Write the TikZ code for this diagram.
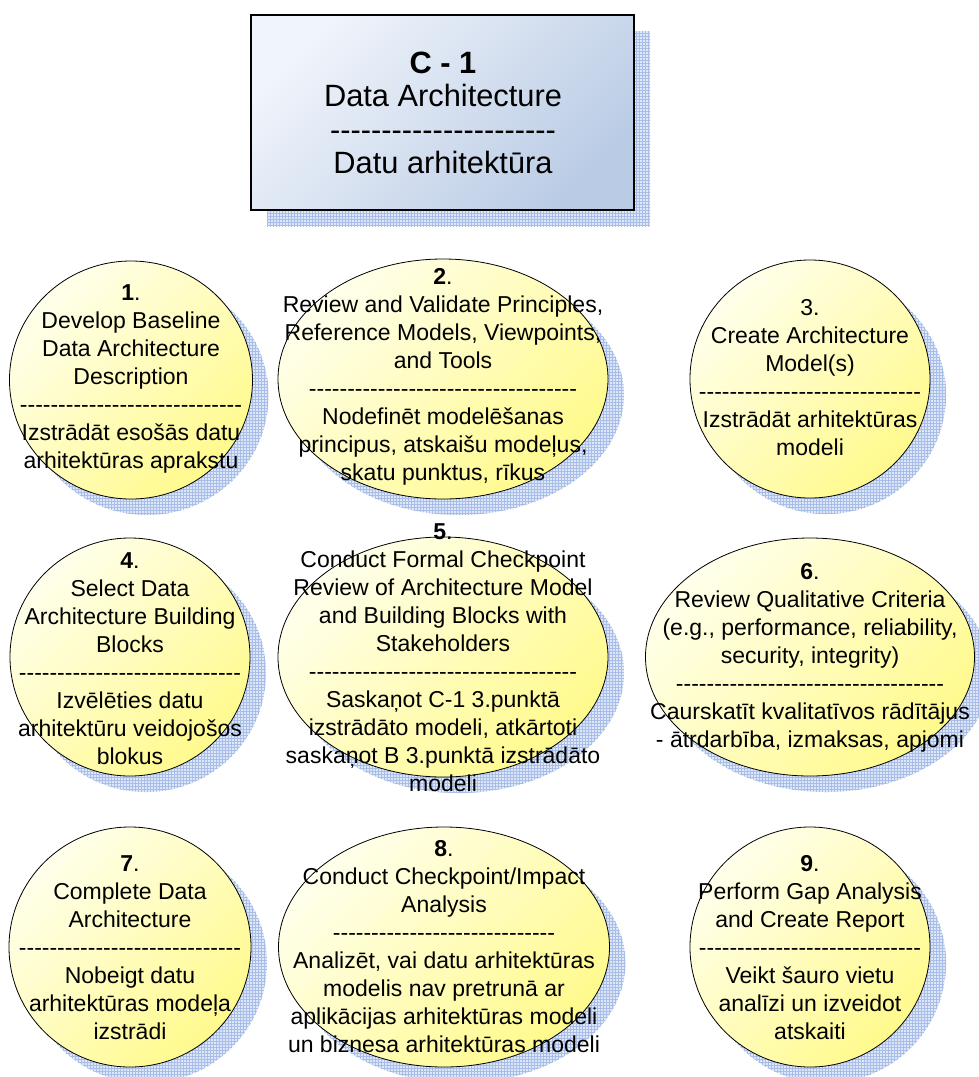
\documentclass[tikz,border=0pt]{standalone}
\usepackage{fontspec}
\setmainfont{Liberation Sans}
\usetikzlibrary{shapes.geometric,patterns}

\definecolor{boxlight}{RGB}{240,244,251}
\definecolor{boxdark}{RGB}{186,204,229}
\definecolor{bublight}{RGB}{255,255,236}
\definecolor{bubdark}{RGB}{255,250,140}
\definecolor{meshfill}{RGB}{222,231,248}
\definecolor{meshline}{RGB}{168,190,232}

% a row of hyphens, kept apart so they are not joined into dashes
\newcommand\dashrow[1]{\foreach \i in {1,...,#1}{-\kern0pt}}

\tikzset{
  shadowmesh/.style={draw=none, preaction={fill=meshfill}, pattern=grid, pattern color=meshline},
  bubbleshadow/.style={ellipse, shadowmesh, inner sep=0pt, outer sep=0pt},
  bubble/.style={ellipse, draw=black, line width=0.8pt, top color=bublight, bottom color=bubdark,
    shading angle=45, inner sep=0pt, outer sep=0pt},
  bubbletext/.style={align=center, font=\fontsize{23}{28}\selectfont, inner sep=0pt},
  titleshadow/.style={rectangle, shadowmesh, inner sep=0pt, outer sep=0pt},
  titlebox/.style={rectangle, draw=black, line width=2.2pt, top color=boxlight, bottom color=boxdark,
    shading angle=45, inner sep=0pt, outer sep=0pt},
  titletext/.style={align=center, font=\fontsize{30.8}{33.5}\selectfont, inner sep=0pt},
}

% #1 name, #2 x, #3 y, #4 width, #5 height, #6 text y, #7 text
\newcommand\stepbubble[7]{%
  \node[bubbleshadow, minimum width=#4pt, minimum height=#5pt] (#1s) at (#2+16,#3+16) {};
  \node[bubble, minimum width=#4pt, minimum height=#5pt] (#1) at (#2,#3) {};
  \node[bubbletext] (#1t) at (#2,#6) {#7};
}

\begin{document}
\begin{tikzpicture}[x=1pt,y=-1pt]
  \useasboundingbox (0,0) rectangle (979,1077);

  % title block
  \node[titleshadow, minimum width=383pt, minimum height=195pt] (titles) at (458.5,128.5) {};
  \node[titlebox, minimum width=383pt, minimum height=195pt] (title) at (442.5,112.5) {};
  \node[titletext] (titlet) at (443,113) {\textbf{C - 1}\\Data Architecture\\\dashrow{22}\\Datu arhitektūra};

  % first row
  \stepbubble{c1}{131}{380}{243}{238}{378.5}{\textbf{1}.\\Develop Baseline\\Data Architecture\\Description\\\dashrow{29}\\Izstrādāt esošās datu\\arhitektūras aprakstu}
  \stepbubble{c2}{443}{379}{330}{240}{376.5}{\textbf{2}.\\Review and Validate Principles,\\Reference Models, Viewpoints,\\and Tools\\\dashrow{35}\\Nodefinēt modelēšanas\\principus, atskaišu modeļus,\\skatu punktus, rīkus}
  \stepbubble{c3}{810}{379}{240}{238}{377.5}{3.\\Create Architecture\\Model(s)\\\dashrow{29}\\Izstrādāt arhitektūras\\modeli}

  % second row
  \stepbubble{c4}{130}{657}{240}{238}{658.5}{\textbf{4}.\\Select Data\\Architecture Building\\Blocks\\\dashrow{29}\\Izvēlēties datu\\arhitektūru veidojošos\\blokus}
  \stepbubble{c5}{443}{657}{330}{240}{658}{\textbf{5}.\\Conduct Formal Checkpoint\\Review of Architecture Model\\and Building Blocks with\\Stakeholders\\\dashrow{35}\\Saskaņot C-1 3.punktā\\izstrādāto modeli, atkārtoti\\saskaņot B 3.punktā izstrādāto\\modeli}
  \stepbubble{c6}{810}{657}{329}{238}{657.5}{\textbf{6}.\\Review Qualitative Criteria\\(e.g., performance, reliability,\\security, integrity)\\\dashrow{35}\\Caurskatīt kvalitatīvos rādītājus\\- ātrdarbība, izmaksas, apjomi}

  % third row
  \stepbubble{c7}{130}{947}{242}{240}{947.5}{\textbf{7}.\\Complete Data\\Architecture\\\dashrow{29}\\Nobeigt datu\\arhitektūras modeļa\\izstrādi}
  \stepbubble{c8}{444}{947}{331}{240}{947}{\textbf{8}.\\Conduct Checkpoint/Impact\\Analysis\\\dashrow{29}\\Analizēt, vai datu arhitektūras\\modelis nav pretrunā ar\\aplikācijas arhitektūras modeli\\un biznesa arhitektūras modeli}
  \stepbubble{c9}{810}{947}{240}{240}{947.5}{\textbf{9}.\\Perform Gap Analysis\\and Create Report\\\dashrow{29}\\Veikt šauro vietu\\analīzi un izveidot\\atskaiti}
\end{tikzpicture}
\end{document}
